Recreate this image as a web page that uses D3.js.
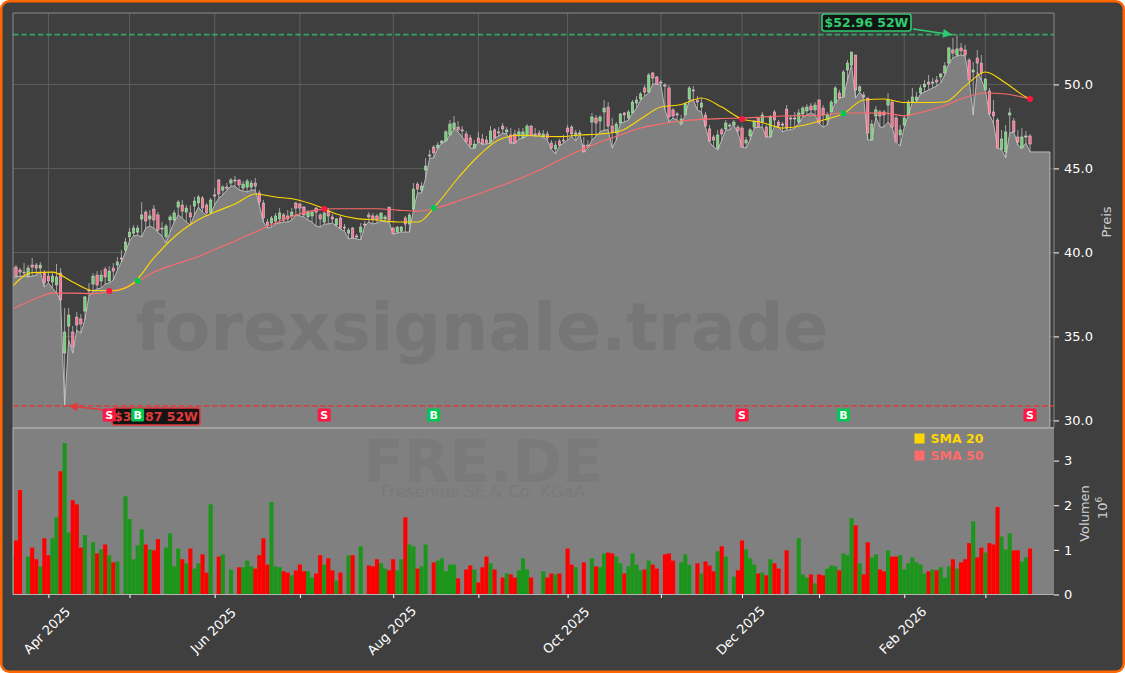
<!DOCTYPE html>
<html>
<head>
<meta charset="utf-8">
<script src="https://cdn.jsdelivr.net/npm/d3@7"></script>
<style>
  html, body { margin: 0; padding: 0; background: #fff; }
  svg { display: block; font-family: "DejaVu Sans", sans-serif; }
</style>
</head>
<body>
<svg id="chart" width="1125" height="673"></svg>
<script>
// Fresenius daily data, one entry per trading day
const opens = [
  38.59,39.13,38.95,38.83,38.59,39.25,39.25,39.07,38.77,38.59,
  38.24,38.06,38.77,34.01,35.62,35.26,36.15,36.04,36.51,37.76,
  38.12,38.65,38.30,39.01,38.30,39.07,39.25,39.67,40.14,40.92,
  41.15,41.21,41.99,42.40,41.99,42.58,42.23,41.45,40.92,41.93,
  41.93,42.70,42.82,42.40,42.35,42.76,42.94,43.24,42.82,42.35,
  43.42,44.31,43.71,43.89,44.13,44.31,44.31,43.83,43.89,43.89,
  44.13,43.54,42.94,41.81,41.75,41.87,41.99,42.23,42.17,42.17,
  42.94,42.88,42.70,42.11,42.17,42.64,42.23,41.81,42.46,42.11,
  41.63,42.05,41.51,41.15,41.45,40.98,41.21,41.69,42.23,42.17,
  42.17,41.99,41.99,42.70,41.45,41.21,41.27,42.05,41.69,42.58,
  44.07,43.71,44.90,45.80,46.27,46.21,46.51,46.63,46.99,47.35,
  47.46,47.29,47.05,46.81,46.21,46.81,46.75,46.69,46.51,47.29,
  47.17,47.52,47.17,46.99,47.05,46.93,46.81,46.99,47.52,47.05,
  47.11,46.87,47.05,46.51,46.15,46.63,46.69,47.40,47.46,46.93,
  47.11,46.39,46.39,47.76,48.00,47.82,48.36,48.65,47.52,47.11,
  47.70,48.30,48.00,48.30,48.89,49.13,49.79,49.55,50.68,50.44,
  50.14,49.96,49.79,48.48,48.24,47.70,48.18,49.13,49.67,49.07,
  48.65,48.18,47.35,46.87,46.21,47.29,47.35,47.58,47.58,47.46,
  47.40,46.51,46.93,47.46,48.00,47.76,47.46,46.87,48.36,47.76,
  47.64,48.53,48.00,48.00,47.76,48.24,48.42,48.71,48.48,49.07,
  48.59,47.88,48.36,48.89,49.49,49.25,50.86,51.15,51.75,49.61,
  49.37,49.19,46.69,48.12,48.36,48.36,48.77,48.95,48.00,46.99,
  47.58,48.18,48.95,49.07,49.49,49.85,50.14,50.08,50.26,50.44,
  50.68,51.27,52.05,51.75,52.17,52.05,51.45,50.74,51.57,51.27,
  49.67,49.61,48.36,47.88,46.15,45.98,48.18,47.82,46.87,46.21,
  46.87,46.93
];
const highs = [
  39.19,39.25,39.07,39.37,39.25,39.67,39.37,39.43,38.95,38.83,
  38.83,39.31,39.07,36.69,36.69,35.62,36.45,36.33,37.40,38.18,
  38.77,38.89,38.95,39.13,39.19,39.37,39.73,40.14,40.86,41.45,
  41.63,41.63,43.00,42.52,42.52,42.82,42.40,41.81,41.69,42.23,
  42.52,43.12,43.12,42.82,42.82,43.30,43.42,43.36,42.94,43.24,
  43.83,44.37,44.01,44.13,44.43,44.55,44.37,44.25,44.37,44.31,
  44.43,43.71,43.12,41.99,42.17,42.35,42.64,42.35,42.52,42.64,
  43.00,42.94,42.76,42.52,42.52,42.70,42.35,42.40,42.64,42.29,
  42.05,42.17,41.69,41.45,41.51,41.10,41.75,41.87,42.40,42.35,
  42.29,42.35,42.23,42.70,41.51,41.57,41.57,42.17,42.35,44.13,
  44.19,44.19,45.62,46.10,46.39,46.57,46.69,47.29,47.88,48.12,
  47.82,47.52,47.23,46.99,46.69,47.17,47.05,46.93,47.52,47.40,
  47.46,47.70,47.46,47.40,47.29,47.40,47.40,47.64,47.58,47.40,
  47.29,47.29,47.23,46.69,46.63,46.75,46.99,47.58,47.58,47.29,
  47.29,46.87,46.69,48.30,48.18,48.18,49.07,48.95,48.00,47.76,
  48.30,48.36,48.48,49.07,49.31,49.55,49.96,50.68,50.74,50.50,
  50.26,50.08,49.96,48.59,48.36,48.18,48.95,49.90,49.90,49.31,
  49.19,48.36,47.58,46.99,47.29,47.40,47.88,47.70,47.88,47.58,
  47.52,46.87,47.40,47.88,48.00,48.36,47.58,48.18,48.48,47.88,
  47.76,48.77,48.18,48.36,48.53,48.71,48.83,48.89,48.95,49.13,
  48.77,48.36,49.07,49.90,49.67,50.86,51.45,51.93,51.75,49.96,
  49.55,49.19,47.88,48.71,48.48,48.48,49.49,49.07,48.12,47.58,
  48.18,49.07,49.79,49.55,49.96,50.26,50.56,50.38,50.50,50.68,
  51.33,52.23,52.76,52.96,52.46,52.35,51.57,51.33,52.05,51.75,
  50.38,49.79,49.07,48.00,47.29,47.58,48.59,48.00,47.29,47.40,
  47.23,47.05
];
const lows = [
  38.54,38.54,38.59,38.59,38.54,38.59,38.65,38.83,37.94,38.18,
  37.88,37.58,37.17,30.87,34.79,34.01,35.38,35.20,35.98,37.40,
  37.70,37.82,37.88,38.12,38.18,38.36,38.95,39.43,40.02,40.68,
  40.98,41.04,40.92,41.45,41.57,41.45,41.21,40.98,40.56,41.21,
  41.81,42.23,42.05,41.81,41.63,42.23,42.70,42.40,42.17,42.29,
  42.82,43.24,43.42,43.71,43.95,43.95,43.71,43.66,43.60,43.71,
  43.71,42.82,41.81,41.45,41.51,41.69,41.75,41.81,41.81,41.93,
  42.23,42.17,42.11,41.93,41.81,41.57,41.51,41.69,41.69,41.75,
  41.57,41.39,41.27,40.80,40.86,40.80,40.74,41.57,41.81,41.69,
  41.75,41.87,41.81,41.81,41.10,41.15,41.21,41.21,41.21,42.52,
  43.54,43.54,44.43,45.62,45.62,46.21,46.51,46.63,46.99,47.35,
  47.17,46.87,46.57,46.21,46.21,46.57,46.45,46.45,46.51,46.81,
  46.93,47.11,47.05,46.51,46.51,46.75,46.81,46.93,46.99,46.93,
  46.93,46.87,46.69,46.15,45.86,46.33,46.51,46.69,46.93,46.63,
  47.05,45.98,46.21,46.69,46.93,47.17,47.29,47.29,46.21,46.69,
  47.70,47.76,47.88,48.30,48.59,49.07,49.31,49.49,50.02,50.02,
  49.96,48.48,47.76,48.00,47.88,47.58,48.18,49.07,49.07,48.48,
  48.36,47.46,46.57,46.27,46.10,46.69,47.29,47.29,47.58,47.11,
  46.27,46.21,46.69,47.40,47.46,47.46,46.87,46.87,47.52,47.46,
  47.17,47.29,47.29,47.40,47.70,48.06,48.18,48.30,48.18,47.70,
  47.46,47.58,48.36,48.89,49.19,49.25,50.26,51.15,49.19,49.55,
  49.19,46.69,46.69,48.06,47.46,47.46,47.76,47.46,46.57,46.33,
  47.46,48.18,48.95,48.95,49.43,49.55,49.67,49.79,49.90,50.08,
  50.56,51.27,51.57,51.69,51.75,51.69,50.26,48.18,50.74,50.26,
  49.67,48.18,47.70,46.21,46.10,45.62,47.11,47.17,46.39,46.21,
  46.51,45.98
];
const closes = [
  39.07,38.59,38.83,38.77,39.07,39.13,39.07,39.25,38.18,38.30,
  38.59,38.54,37.17,35.26,36.27,34.37,35.68,35.74,37.35,37.70,
  38.59,38.06,38.65,38.54,38.89,38.89,39.43,39.61,40.62,41.21,
  41.45,41.45,42.23,41.87,42.17,41.93,41.33,41.39,41.57,42.11,
  42.35,43.00,42.46,42.64,42.11,43.06,43.30,42.64,42.35,43.12,
  43.36,43.48,43.89,43.83,44.31,44.25,44.01,44.07,44.25,44.13,
  43.95,43.00,42.05,41.63,42.05,42.17,42.35,41.93,41.99,42.40,
  42.64,42.64,42.23,42.40,42.40,42.40,41.99,42.35,42.17,41.99,
  41.99,41.45,41.45,41.33,40.86,40.92,41.51,41.63,42.11,41.99,
  41.93,42.35,42.11,41.93,41.10,41.51,41.51,41.69,42.23,43.77,
  43.77,43.95,45.14,45.74,45.92,46.39,46.63,47.17,47.64,47.70,
  47.29,47.23,46.57,46.39,46.45,46.57,46.45,46.51,47.23,46.81,
  47.11,47.35,47.29,46.51,46.51,47.17,47.17,47.52,46.99,46.99,
  46.99,47.05,46.81,46.21,46.39,46.39,46.63,47.17,47.05,47.11,
  47.05,45.98,46.33,48.06,47.70,48.06,48.59,47.52,47.17,47.64,
  48.24,48.18,48.36,48.95,49.07,49.43,49.55,50.56,50.38,50.02,
  50.08,49.90,48.06,48.12,48.18,47.94,48.83,49.79,49.61,48.95,
  48.89,47.52,46.63,46.69,46.99,47.05,47.70,47.52,47.76,47.23,
  46.27,46.69,47.29,47.82,47.46,48.18,46.87,48.06,47.88,47.52,
  47.58,47.40,47.94,47.94,48.30,48.59,48.65,48.48,48.77,47.70,
  48.18,48.18,48.95,49.79,49.19,50.74,51.27,51.93,49.67,49.85,
  49.25,47.11,47.64,48.48,48.12,48.18,49.07,47.46,46.57,47.29,
  48.00,48.95,49.25,49.25,49.79,50.02,50.02,50.14,50.14,50.62,
  51.10,52.17,51.87,52.11,51.99,51.75,50.26,50.86,51.27,50.68,
  50.32,48.24,48.12,46.21,46.75,47.17,48.30,47.17,46.57,46.87,
  46.93,46.45
];
// volume in millions, 0 = no bar that day
const volumes = [
  .85,1.21,2.34,0,.85,1.05,.79,.63,1.26,.88,
  1.26,1.73,2.76,3.39,1.39,2.11,2.02,1.05,1.33,0,
  1.17,.92,1.01,1.12,.88,.72,.74,0,2.2,1.69,
  .79,1.1,1.46,1.12,1.01,.99,1.24,0,1.05,1.37,
  .63,1.03,.79,.7,1.03,.58,.7,.9,.49,2.02,
  0,.85,.9,0,.56,0,.61,.61,.76,.63,
  .58,.88,1.26,.67,2.07,.63,.61,.52,.49,.43,
  .54,.67,.52,.52,.38,.47,.88,.67,.81,.54,
  .31,.49,0,.88,.88,0,1.08,0,.65,.63,
  .79,.7,.58,.54,.79,.54,.79,1.73,1.12,1.08,
  .58,.63,1.12,0,.72,.76,.81,.52,.67,.67,
  .36,0,.56,.65,.56,.27,.61,.85,.7,.56,
  0,.38,.47,.45,.38,.54,.81,.56,.38,0,
  0,.52,.38,.47,.45,.47,0,1.03,.67,.61,
  0,.72,0,.81,.63,.61,.92,.94,.92,.85,
  .7,.47,.63,.92,.67,.54,.56,.76,.67,.58,
  0,.9,.92,.76,0,.72,.9,.67,0,.7,
  .47,.74,.65,.52,.97,1.08,.85,0,.4,.54,
  1.21,1.01,.81,.67,.47,.49,.43,.79,.7,.58,
  0,.99,0,0,1.26,.45,.38,.45,.25,.45,
  .43,.58,.65,.63,.54,.92,.88,1.71,1.55,.7,
  .45,1.17,.83,.9,.56,.52,.99,.85,.85,.88,
  .56,.7,.83,.72,.67,.47,.52,.56,.54,.61,
  .38,.63,.79,.58,.72,.79,1.15,1.64,.83,1.05,
  .94,1.15,1.12,1.96,1.3,1.01,1.37,.99,.99,.74,
  .83,1.03
];

// moving averages, read every 5th day
const smaDays = [
  0,5,10,15,20,25,30,35,40,45,50,55,60,65,70,75,80,85,90,95,100,105,110,115,120,
  125,130,135,140,145,150,155,160,165,170,175,180,185,190,195,200,205,210,215,220,225,230,235,240,245,250,251
];
const sma20 = [
  37.94,38.80,38.83,38.24,37.73,37.72,38.18,39.67,40.92,41.81,42.40,42.88,43.48,43.30,43.15,42.79,42.29,42.01,41.93,41.81,41.81,42.94,44.43,45.74,46.69,
  46.97,46.93,46.89,46.99,47.05,47.23,47.94,48.65,48.80,49.19,48.65,47.94,47.73,47.40,47.55,47.88,48.27,49.07,49.13,48.92,48.92,48.95,49.90,50.74,50.08,49.25,49.13
];
const sma50 = [
  36.60,37.17,37.58,37.58,37.55,37.70,38.12,38.83,39.28,39.67,40.17,40.68,41.21,41.75,42.23,42.52,42.60,42.60,42.60,42.52,42.46,42.67,43.06,43.48,43.92,
  44.37,44.90,45.50,46.07,46.57,46.99,47.40,47.64,47.82,47.92,47.97,48.00,48.06,48.12,48.14,48.18,48.30,48.30,48.29,48.14,48.39,48.74,49.22,49.49,49.43,49.19,49.13
];

// crossover signals
const signalDays = [24, 31, 77, 104, 180, 205, 251];
const signalPrices = [37.71, 38.30, 42.58, 42.64, 47.94, 48.27, 49.13];
const signalTypes = ["S", "B", "S", "B", "S", "B", "S"];
const signalRowPrice = 30.33;

const low52 = 30.87;
const high52 = 52.96;
const lowDay = 13;
const highDay = 233;

const priceTicks = [30, 35, 40, 45, 50];
const volumeTicks = [0, 1, 2, 3];
const monthDays = [9, 29, 50, 71, 94, 115, 137, 160, 180, 199, 220, 240];
const monthLabels = ["Apr 2025", "", "Jun 2025", "", "Aug 2025", "", "Oct 2025", "", "Dec 2025", "", "Feb 2026", ""];

const legendNames = ["SMA 20", "SMA 50"];
const legendColors = ["#ffd700", "#ff6b6b"];

const GREEN = "#2ecc71", RED = "#e03b3b", SELL = "#ff1744", BUY = "#00c853";

const left = 13, right = 1054, priceTop = 13, priceBottom = 428, volBottom = 594.5;

const svg = d3.select("#chart");
const x = d3.scaleLinear().domain([0, 251]).range([11.9, 1030]);
const y = d3.scaleLinear().domain([29.55, 54.25]).range([priceBottom, priceTop]);
const yVol = d3.scaleLinear().domain([0, 3.73]).range([volBottom, priceBottom]);
const days = d3.range(opens.length);

svg.append("rect").attr("x", 1.25).attr("y", 1.25).attr("width", 1122.5).attr("height", 670.5)
  .attr("rx", 8).attr("fill", "#3f3f3f").attr("stroke", "#ff6600").attr("stroke-width", 2.5);

const defs = svg.append("defs");
defs.append("clipPath").attr("id", "priceClip").append("rect")
  .attr("x", left).attr("y", priceTop).attr("width", right - left).attr("height", priceBottom - priceTop);
defs.append("clipPath").attr("id", "volClip").append("rect")
  .attr("x", left).attr("y", priceBottom).attr("width", right - left).attr("height", volBottom - priceBottom);

// Grid
const grid = svg.append("g").attr("stroke", "#626262").attr("stroke-width", 0.9);
grid.selectAll(".gx").data(monthDays).join("line")
  .attr("x1", (d) => x(d)).attr("x2", (d) => x(d)).attr("y1", priceTop).attr("y2", priceBottom);
grid.selectAll(".gy").data(priceTicks).join("line")
  .attr("x1", left).attr("x2", right).attr("y1", (d) => y(d)).attr("y2", (d) => y(d));

// Price area follows the daily lows, last value runs on past the last day
const pricePanel = svg.append("g").attr("clip-path", "url(#priceClip)");
const areaDays = days.concat([255.9]);
const areaLows = lows.concat([lows[lows.length - 1]]);
const areaPath = d3.area().x((d) => x(d)).y0(priceBottom).y1((d, i) => y(areaLows[i]));
const linePath = d3.line().x((d) => x(d)).y((d, i) => y(areaLows[i]));
pricePanel.append("path").attr("d", areaPath(areaDays)).attr("fill", "#808080");
pricePanel.append("path").attr("d", linePath(areaDays)).attr("fill", "none").attr("stroke", "#b9b9b9").attr("stroke-width", 1);
pricePanel.append("line").attr("x1", x(255.9)).attr("x2", x(255.9))
  .attr("y1", y(areaLows[areaLows.length - 1])).attr("y2", priceBottom)
  .attr("stroke", "#b9b9b9").attr("stroke-width", 1);

// Volume panel
svg.append("rect").attr("x", left).attr("y", priceBottom).attr("width", right - left).attr("height", volBottom - priceBottom).attr("fill", "#808080");

// Watermarks
svg.append("text").attr("x", 482).attr("y", 350).attr("text-anchor", "middle")
  .attr("font-size", 66.5).attr("font-weight", "bold").attr("fill", "#3c3c3c").attr("opacity", 0.14)
  .text("forexsignale.trade");
svg.append("text").attr("x", 483).attr("y", 482).attr("text-anchor", "middle")
  .attr("font-size", 59.5).attr("font-weight", "bold").attr("fill", "#3c3c3c").attr("opacity", 0.08)
  .text("FRE.DE");
svg.append("text").attr("x", 483).attr("y", 497).attr("text-anchor", "middle")
  .attr("font-size", 16.5).attr("fill", "#3c3c3c").attr("opacity", 0.09)
  .text("Fresenius SE & Co. KGaA");

// Candles
pricePanel.selectAll(".wick").data(days).join("line")
  .attr("x1", (d) => x(d)).attr("x2", (d) => x(d))
  .attr("y1", (d) => y(highs[d])).attr("y2", (d) => y(lows[d]))
  .attr("stroke", "#cfcfcf").attr("stroke-width", 0.7);
pricePanel.selectAll(".body").data(days).join("rect")
  .attr("x", (d) => x(d) - 1.2).attr("width", 2.4)
  .attr("y", (d) => y(Math.max(opens[d], closes[d])))
  .attr("height", (d) => Math.abs(y(opens[d]) - y(closes[d])))
  .attr("fill", (d) => closes[d] >= opens[d] ? "#6fd66f" : "#ff6f90")
  .attr("stroke", "#dcdcdc").attr("stroke-width", 0.5);

// Moving averages
const smaLine = (values) => d3.line().x((d) => x(d)).y((d, i) => y(values[i])).curve(d3.curveMonotoneX)(smaDays);
pricePanel.append("path").attr("d", smaLine(sma50)).attr("fill", "none").attr("stroke", "#ff6b6b").attr("stroke-width", 1.1);
pricePanel.append("path").attr("d", smaLine(sma20)).attr("fill", "none").attr("stroke", "#ffd700").attr("stroke-width", 1.1);

// 52 week high and low
pricePanel.append("line").attr("x1", left).attr("x2", right).attr("y1", y(high52)).attr("y2", y(high52))
  .attr("stroke", GREEN).attr("stroke-width", 1.7).attr("stroke-dasharray", "5.5,2.8").attr("opacity", 0.75);
pricePanel.append("line").attr("x1", left).attr("x2", right).attr("y1", y(low52)).attr("y2", y(low52))
  .attr("stroke", RED).attr("stroke-width", 1.7).attr("stroke-dasharray", "5.5,2.8").attr("opacity", 0.85);

defs.append("marker").attr("id", "headHigh").attr("viewBox", "0 0 10 10").attr("refX", 10).attr("refY", 5)
  .attr("markerWidth", 7).attr("markerHeight", 6).attr("orient", "auto")
  .append("path").attr("d", "M0,0L10,5L0,10z").attr("fill", GREEN);
defs.append("marker").attr("id", "headLow").attr("viewBox", "0 0 10 10").attr("refX", 10).attr("refY", 5)
  .attr("markerWidth", 7).attr("markerHeight", 6).attr("orient", "auto")
  .append("path").attr("d", "M0,0L10,5L0,10z").attr("fill", RED);

svg.append("line").attr("x1", 913).attr("y1", 29).attr("x2", x(highDay) - 5).attr("y2", y(high52))
  .attr("stroke", GREEN).attr("stroke-width", 1.5).attr("marker-end", "url(#headHigh)");
svg.append("line").attr("x1", 104).attr("y1", 410).attr("x2", x(lowDay) + 4).attr("y2", y(low52))
  .attr("stroke", RED).attr("stroke-width", 1.5).attr("marker-end", "url(#headLow)");

function labelBox(bx, by, bw, bh, color, text) {
  svg.append("rect").attr("x", bx).attr("y", by).attr("width", bw).attr("height", bh).attr("rx", 2.5)
    .attr("fill", "#141414").attr("stroke", color).attr("stroke-width", 1.6);
  svg.append("text").attr("x", bx + bw / 2).attr("y", by + bh / 2 + 4.5).attr("text-anchor", "middle")
    .attr("font-size", 12.5).attr("font-weight", "bold").attr("fill", color).text(text);
}
labelBox(822, 14, 89, 17, GREEN, `$${high52.toFixed(2)} 52W`);
labelBox(112, 408, 88, 17, RED, `$${low52.toFixed(2)} 52W`);

// Signals
pricePanel.selectAll(".sig").data(signalDays).join("circle")
  .attr("cx", (d) => x(d)).attr("cy", (d, i) => y(signalPrices[i])).attr("r", 3)
  .attr("fill", (d, i) => signalTypes[i] === "B" ? BUY : SELL);
const sigBoxes = svg.append("g").selectAll("g").data(signalDays).join("g")
  .attr("transform", (d) => `translate(${x(d)},${y(signalRowPrice)})`);
sigBoxes.append("rect").attr("x", -6.5).attr("y", -6.5).attr("width", 13).attr("height", 13)
  .attr("rx", 1.5).attr("fill", (d, i) => signalTypes[i] === "B" ? BUY : SELL);
sigBoxes.append("text").attr("y", 4).attr("text-anchor", "middle").attr("font-size", 11)
  .attr("font-weight", "bold").attr("fill", "#fff").text((d, i) => signalTypes[i]);

// Volume bars
svg.append("g").attr("clip-path", "url(#volClip)").selectAll("rect").data(days).join("rect")
  .attr("x", (d) => x(d) - 2.05).attr("width", 4.1)
  .attr("y", (d) => yVol(volumes[d]))
  .attr("height", (d) => yVol(0) - yVol(volumes[d]))
  .attr("fill", (d) => closes[d] >= opens[d] ? "#1b961b" : "#ff0000");

// Panel frame
svg.append("path").attr("d", `M${left},${priceBottom}V${priceTop}H${right}V${priceBottom}`)
  .attr("fill", "none").attr("stroke", "#8c8c8c").attr("stroke-width", 1);
svg.append("line").attr("x1", left).attr("x2", right).attr("y1", priceBottom).attr("y2", priceBottom)
  .attr("stroke", "#a2a2a2").attr("stroke-width", 2);
svg.append("path").attr("d", `M${left},${priceBottom}V${volBottom}H${right}`)
  .attr("fill", "none").attr("stroke", "#b4b4b4").attr("stroke-width", 1);

// Axes
const styleAxis = (g) => {
  g.select(".domain").remove();
  g.selectAll("line").attr("stroke", "#fff");
  g.selectAll("text").attr("fill", "#fff").attr("font-size", 13).attr("font-family", '"DejaVu Sans"');
};
svg.append("g").attr("transform", `translate(${right},0)`)
  .call(d3.axisRight(y).tickValues(priceTicks).tickFormat(d3.format(".1f")).tickSize(5).tickPadding(5))
  .call(styleAxis);
svg.append("g").attr("transform", `translate(${right},0)`)
  .call(d3.axisRight(yVol).tickValues(volumeTicks).tickFormat(d3.format("d")).tickSize(5).tickPadding(5))
  .call(styleAxis);
svg.append("g").attr("transform", `translate(0,${volBottom})`)
  .call(d3.axisBottom(x).tickValues(monthDays).tickFormat((d, i) => monthLabels[i]).tickSize(3.5))
  .call(styleAxis)
  .selectAll("text")
  .attr("dy", null).attr("y", null).attr("text-anchor", "middle").attr("dominant-baseline", "central")
  .attr("transform", `translate(-2,36) rotate(-45)`);

// Axis titles
svg.append("text").attr("transform", "translate(1111,222) rotate(-90)").attr("text-anchor", "middle")
  .attr("font-size", 13).attr("fill", "#d0d0d0").text("Preis");
svg.append("text").attr("transform", "translate(1088.5,513.5) rotate(-90)").attr("text-anchor", "middle")
  .attr("font-size", 13).attr("fill", "#d0d0d0").text("Volumen");
const exp = svg.append("text").attr("transform", "translate(1107,508) rotate(-90)").attr("text-anchor", "middle")
  .attr("font-size", 13).attr("fill", "#d0d0d0");
exp.append("tspan").text("10");
exp.append("tspan").attr("font-size", 9).attr("dy", -5).text("6");

// Legend
const legend = svg.append("g").selectAll("g").data(legendNames).join("g")
  .attr("transform", (d, i) => `translate(914.5,${438.5 + i * 17})`);
legend.append("rect").attr("y", -5).attr("width", 10).attr("height", 10).attr("fill", (d, i) => legendColors[i]);
legend.append("text").attr("x", 16).attr("y", 4.5).attr("font-size", 12.5).attr("font-weight", "bold")
  .attr("fill", (d, i) => legendColors[i]).text((d) => d);
</script>
</body>
</html>
